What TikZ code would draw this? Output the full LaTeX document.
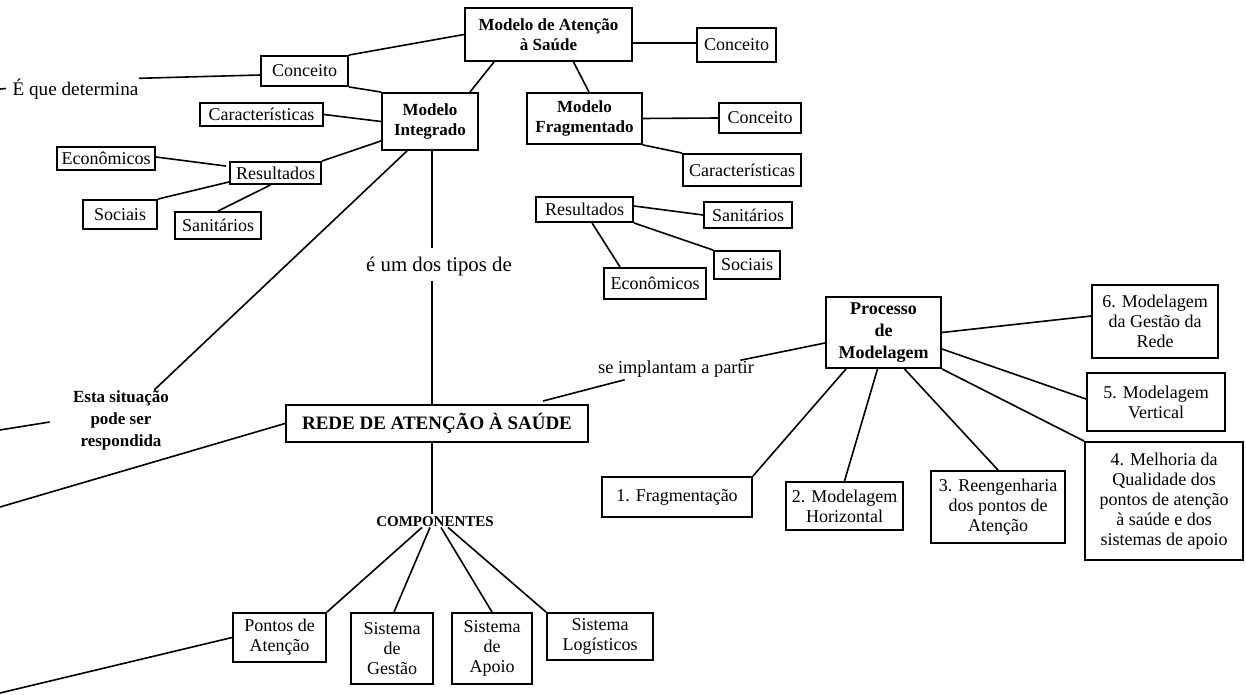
\documentclass[tikz,border=0pt]{standalone}
\usepackage{fontspec}
\setmainfont{Liberation Serif}
\usetikzlibrary{calc}
\tikzset{
  box/.style={draw, line width=0.95pt, inner sep=0pt, align=center, font=\fontsize{9}{10}\selectfont},
  bbox/.style={box, font=\fontsize{8.5}{9.6}\selectfont\bfseries},
  lbl/.style={inner sep=0pt, align=center, font=\fontsize{9}{10}\selectfont},
  conn/.style={line width=0.8pt}
}
\begin{document}
\begin{tikzpicture}[x=0.5pt, y=-0.5pt]
\useasboundingbox (0,0) rectangle (1246,695);
% top cluster
\node[bbox, minimum width=83.5pt, minimum height=26.5pt, font=\fontsize{8.5}{10}\selectfont\bfseries] (mas) at (548.5,34.5) {Modelo de Atenção\\à Saúde};
\node[box, minimum width=43.5pt, minimum height=15pt] (c1) at (304.5,71) {Conceito};
\node[box, minimum width=39.5pt, minimum height=17pt] (c2) at (736.5,45) {Conceito};
\node[bbox, minimum width=48pt, minimum height=28.5pt] (mi) at (430,121.5) {Modelo\\Integrado};
\node[bbox, minimum width=57.5pt, minimum height=25.5pt] (mf) at (584.5,118.5) {Modelo\\Fragmentado};
\node[box, minimum width=61.5pt, minimum height=11.5pt] (car1) at (261.5,114.5) {Características};
\node[box, minimum width=45.5pt, minimum height=11pt] (res1) at (275.5,173) {Resultados};
\node[box, minimum width=49pt, minimum height=11.5pt] (eco1) at (106,158.5) {Econômicos};
\node[box, minimum width=37pt, minimum height=14.5pt] (soc1) at (120,214.5) {Sociais};
\node[box, minimum width=43pt, minimum height=13.5pt] (san1) at (218,225.5) {Sanitários};
\node[box, minimum width=41pt, minimum height=15pt] (c3) at (760,118) {Conceito};
\node[box, minimum width=59pt, minimum height=16pt] (car2) at (742,170) {Características};
\node[box, minimum width=48.5pt, minimum height=12.5pt] (res2) at (584.5,209.5) {Resultados};
\node[box, minimum width=44pt, minimum height=13pt] (san2) at (748,215) {Sanitários};
\node[box, minimum width=33pt, minimum height=14pt] (soc2) at (747,265) {Sociais};
\node[box, minimum width=51pt, minimum height=15.5pt] (eco2) at (655,283.5) {Econômicos};
% free labels
\node[lbl, font=\fontsize{9.6}{11}\selectfont] (eqd) at (75.5,89) {É que determina};
\node[lbl, font=\fontsize{10.4}{12}\selectfont] (etd) at (439,266) {é um dos tipos de};
\node[lbl, font=\fontsize{9.2}{11}\selectfont] (sip) at (676,369) {se implantam a partir};
\node[lbl, font=\fontsize{8.5}{11}\selectfont\bfseries] (esp) at (121,420) {Esta situação\\pode ser\\respondida};
\node[lbl, font=\fontsize{7.5}{9}\selectfont\bfseries] (comp) at (435,522) {COMPONENTES};
% main boxes
\node[box, minimum width=57.5pt, minimum height=35.5pt, font=\fontsize{9}{11}\selectfont\bfseries] (pm) at (883.5,332.5) {Processo\\de\\Modelagem};
\node[box, minimum width=151pt, minimum height=18.5pt, font=\fontsize{9.5}{11}\selectfont\bfseries] (rede) at (437,423.5) {REDE DE ATENÇÃO À SAÚDE};
\node[box, minimum width=75pt, minimum height=20pt] (p1) at (677,497) {1. Fragmentação};
\node[box, minimum width=58.5pt, minimum height=24pt] (p2) at (844.5,506) {2. Modelagem\\Horizontal};
\node[box, minimum width=67pt, minimum height=36pt] (p3) at (998,507) {3. Reengenharia\\dos pontos de\\Atenção};
\node[box, minimum width=79pt, minimum height=59pt] (p4) at (1164,501) {4. Melhoria da\\Qualidade dos\\pontos de atenção\\à saúde e dos\\sistemas de apoio};
\node[box, minimum width=69pt, minimum height=29pt] (p5) at (1156,402) {5. Modelagem\\Vertical};
\node[box, minimum width=63pt, minimum height=36.5pt] (p6) at (1155,321.5) {6. Modelagem\\da Gestão da\\Rede};
\node[box, minimum width=46.5pt, minimum height=24.5pt] (pa) at (279.5,637.5) {Pontos de\\Atenção};
\node[box, minimum width=41pt, minimum height=35.5pt] (sg) at (392,648.5) {Sistema\\de\\Gestão};
\node[box, minimum width=40pt, minimum height=35.5pt] (sa) at (492,648.5) {Sistema\\de\\Apoio};
\node[box, minimum width=53pt, minimum height=23.5pt] (sl) at (600,636.5) {Sistema\\Logísticos};
% free ends
\coordinate (stubA) at (0,89);
\coordinate (stubB) at (6,88.5);
\coordinate (edgeA) at (0,430);
\coordinate (edgeB) at (0,507);
\coordinate (edgeC) at (0,693);
\coordinate (vx) at ($(mi.south)+(2,0)$);
% connectors
\draw[conn] (stubA) -- (stubB);
\draw[conn] (eqd.north east) -- ($(c1.west)+(0,4)$);
\draw[conn] (c1.north east) -- (mas.west);
\draw[conn] (c1.south east) -- (mi.north west);
\draw[conn] ($(mas.east)+(0,8.5)$) -- ($(c2.west)+(0,-2)$);
\draw[conn] ($(mas.south west)+(30,0)$) -- ($(mi.north east)+(-9,0)$);
\draw[conn] ($(mas.south)+(25,0)$) -- ($(mf.north)+(4.5,0)$);
\draw[conn] (mf.east) -- (c3.west);
\draw[conn] (mf.south east) -- (car2.north west);
\draw[conn] (mi.west) -- (car1.east);
\draw[conn] ($(mi.south west)+(0,-10)$) -- (res1.north east);
\draw[conn] ($(res1.north west)+(-3,5)$) -- ($(eco1.east)+(0,-1.5)$);
\draw[conn] ($(res1.south west)+(0,-3)$) -- (soc1.north east);
\draw[conn] ($(res1.south)+(-5,0)$) -- (san1.north);
\draw[conn] ($(mi.south)+(-23,0)$) -- ($(esp.north east)+(-15,0)$);
\draw[conn] (vx) -- ($(vx |- etd.north)+(0,-8)$);
\draw[conn] ($(vx |- etd.south)+(0,5)$) -- (vx |- rede.north);
\draw[conn] (vx |- rede.south) -- ($(vx |- comp.north)+(0,-3)$);
\draw[conn] ($(rede.north east)+(-46,-3)$) -- ($(sip.south west)+(27,2)$);
\draw[conn] ($(sip.north east)+(-14,0)$) -- ($(pm.west)+(0,10.5)$);
\draw[conn] (rede.west) -- (edgeB);
\draw[conn] ($(esp.west)+(-23,2)$) -- (edgeA);
\draw[conn] ($(comp.south)+(-13,0)$) -- (pa.north east);
\draw[conn] ($(comp.south)+(-5,0)$) -- ($(sg.north)+(2,0)$);
\draw[conn] ($(comp.south)+(6,0)$) -- (sa.north);
\draw[conn] ($(comp.south)+(13,0)$) -- (sl.north west);
\draw[conn] (pa.west) -- (edgeC);
\draw[conn] ($(pm.south west)+(21,0)$) -- (p1.north east);
\draw[conn] ($(pm.south)+(-6,0)$) -- (p2.north);
\draw[conn] ($(pm.south)+(21,0)$) -- (p3.north);
\draw[conn] (pm.south east) -- (p4.north west);
\draw[conn] ($(pm.east)+(0,16.5)$) -- ($(p5.west)+(0,-3)$);
\draw[conn] (pm.east) -- ($(p6.west)+(0,-5.5)$);
\draw[conn] ($(res2.east)+(0,-3.5)$) -- (san2.west);
\draw[conn] (res2.south east) -- (soc2.north west);
\draw[conn] ($(res2.south)+(7.5,0)$) -- ($(eco2.north west)+(17,0)$);
\end{tikzpicture}
\end{document}
